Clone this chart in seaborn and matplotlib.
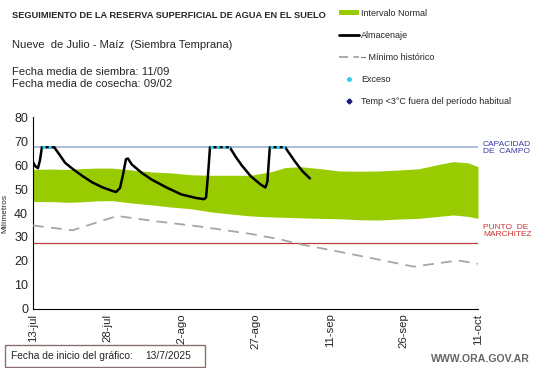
import matplotlib
matplotlib.use("Agg")
import matplotlib.pyplot as plt
import seaborn as sns
import pandas as pd
from matplotlib.patches import Patch, Rectangle
from matplotlib.lines import Line2D

# ---- data (day offsets from 13-jul-2025) ----
tick_days = [0, 15, 30, 45, 60, 75, 90]
tick_labels = ["13-jul", "28-jul", "12-ago", "27-ago", "11-sep", "26-sep", "11-oct"]

band_days = [0, 4, 7, 10, 13, 16, 20, 24, 28, 32, 36, 40, 44, 48, 51, 54, 58, 62, 66, 70, 74, 78, 82, 85, 88, 90]
band_upper = [58.3, 58.4, 58.2, 58.6, 58.8, 58.8, 58.0, 57.2, 56.8, 56.0, 55.8, 55.8, 55.8, 57.2, 59.0, 59.4, 58.6, 57.6, 57.5, 57.6, 58.0, 58.5, 60.3, 61.5, 61.0, 59.4]
band_lower = [44.8, 44.8, 44.5, 44.7, 45.1, 45.2, 44.2, 43.4, 42.5, 41.8, 40.5, 39.6, 38.8, 38.4, 38.2, 38.0, 37.8, 37.6, 37.2, 37.1, 37.5, 37.8, 38.6, 39.2, 38.6, 37.8]

alm_days = [0, 0.5, 1, 1.4, 1.8, 4.3, 5.5, 6.5, 8, 10, 12, 14, 16, 16.8, 17.6, 18.2, 18.8, 19.2, 20, 22, 24, 27, 30, 33, 34.6, 35.0, 35.4, 35.8, 39.8, 41, 42.2, 44, 46, 47.0, 47.4, 47.9, 51, 52, 53, 54.5, 56]
alm_vals = [61.3, 59.5, 58.8, 62.0, 67.5, 67.5, 64.0, 61.0, 58.5, 55.5, 52.8, 50.8, 49.3, 48.8, 50.5, 56.0, 62.5, 62.8, 60.3, 56.8, 54.0, 50.7, 47.8, 46.3, 45.8, 46.5, 56.0, 67.5, 67.5, 63.5, 60.0, 55.5, 52.0, 50.7, 53.0, 67.5, 67.5, 64.5, 61.5, 57.5, 54.5]

min_days = [0, 8, 17, 24, 34, 44, 50, 54, 64, 77, 86, 90]
min_vals = [34.8, 32.8, 38.8, 36.8, 34.3, 31.3, 29.0, 27.0, 23.0, 17.6, 20.2, 18.8]

exc_segments = [[1.8, 2.5, 3.2, 3.9, 4.3], [35.8, 36.5, 37.2, 37.9, 38.6, 39.3, 39.8], [47.9, 48.6, 49.3, 50.0, 50.7, 51.0]]
capacidad = 67.5
marchitez = 27.5

# ---- figure ----
sns.set_theme(style="white")
plt.rcParams['font.family'] = ['Liberation Sans', 'DejaVu Sans']

fig = plt.figure(figsize=(5.41, 3.68), dpi=100)
ax = fig.add_axes([0.061, 0.161, 0.8225, 0.520])

green = "#99CC00"
ax.fill_between(band_days, band_lower, band_upper, color=green, linewidth=0, zorder=1)
ax.axhline(capacidad, color="#9CB0CC", lw=1.2, zorder=2)
ax.axhline(marchitez, color="#C0393B", lw=0.9, zorder=2)

df_min = pd.DataFrame({"dia": min_days, "mm": min_vals})
sns.lineplot(data=df_min, x="dia", y="mm", ax=ax, color="#A6A6A6", lw=1.3,
             linestyle=(0, (6, 4)), zorder=3)
df_alm = pd.DataFrame({"dia": alm_days, "mm": alm_vals})
sns.lineplot(data=df_alm, x="dia", y="mm", ax=ax, color="black", lw=1.8, zorder=4)
for seg in exc_segments:
    df_e = pd.DataFrame({"dia": seg, "mm": [capacidad] * len(seg)})
    sns.lineplot(data=df_e, x="dia", y="mm", ax=ax, color="#33CCEE", lw=2.2,
                 linestyle=(0, (1, 1)), zorder=5)

ax.set_xlim(0, 90)
ax.set_ylim(0, 80)
ax.set_xticks(tick_days)
ax.set_xticklabels(tick_labels, rotation=90, fontsize=8.2)
ax.set_yticks(range(0, 81, 10))
ax.tick_params(axis="y", labelsize=9, direction="inout", length=5, width=0.8, pad=1)
ax.tick_params(axis="x", direction="inout", length=5, width=0.8, pad=1)
ax.set_xlabel("")
ax.set_ylabel("Milímetros", fontsize=6, labelpad=4)
for s in ["top", "right"]:
    ax.spines[s].set_visible(False)
for s in ["left", "bottom"]:
    ax.spines[s].set_color("black")
    ax.spines[s].set_linewidth(0.8)

# right side labels
ax.text(91, 67.3, "CAPACIDAD\nDE  CAMPO", color="#3838A8", fontsize=6, va="center",
        ha="left", linespacing=1.1, clip_on=False)
ax.text(91, 32.6, "PUNTO  DE\nMARCHITEZ", color="#CC3333", fontsize=6, va="center",
        ha="left", linespacing=1.1, clip_on=False)

# header texts
fig.text(12 / 541, 1 - 16 / 368, "SEGUIMIENTO DE LA RESERVA SUPERFICIAL DE AGUA EN EL SUELO",
         fontsize=6.7, fontweight="bold", va="center", ha="left")
fig.text(12 / 541, 1 - 45 / 368, "Nueve  de Julio - Maíz  (Siembra Temprana)",
         fontsize=8.1, va="center", ha="left")
fig.text(12 / 541, 1 - 72 / 368, "Fecha media de siembra: 11/09", fontsize=8.1, va="center", ha="left")
fig.text(12 / 541, 1 - 84 / 368, "Fecha media de cosecha: 09/02", fontsize=8.1, va="center", ha="left")

# legend
handles = [
    Patch(facecolor=green, edgecolor="none"),
    Line2D([], [], color="black", lw=2),
    Line2D([], [], color="#A6A6A6", lw=1.3, linestyle=(0, (5, 3))),
    Line2D([], [], color="#33CCEE", marker="o", ms=2.5, lw=0),
    Line2D([], [], color="#1A1A80", marker="D", ms=2.5, lw=0),
]
labels = ["Intervalo Normal", "Almacenaje", "– Mínimo histórico", "Exceso",
          "Temp <3°C fuera del período habitual"]
leg = fig.legend(handles, labels, loc="upper left", bbox_to_anchor=(335 / 541, 1 - 5 / 368),
                 frameon=False, fontsize=6.5, labelspacing=1.45, handlelength=2.3,
                 handleheight=0.6, handletextpad=0.2, borderaxespad=0)

# bottom box
box = Rectangle((5 / 541, 1 - 367 / 368), 200 / 541, 22 / 368, transform=fig.transFigure,
                facecolor="white", edgecolor="#8C6E6E", lw=1)
fig.patches.append(box)
fig.text(11 / 541, 1 - 356 / 368, "Fecha de inicio del gráfico:", fontsize=7.4, va="center", ha="left")
fig.text(145 / 541, 1 - 356 / 368, "13/7/2025", fontsize=7.4, va="center", ha="left")
fig.text(530 / 541, 1 - 359 / 368, "WWW.ORA.GOV.AR", fontsize=7.6, fontweight="bold",
         color="#666666", va="center", ha="right")

fig.savefig("out.png", dpi=100, facecolor="white")
